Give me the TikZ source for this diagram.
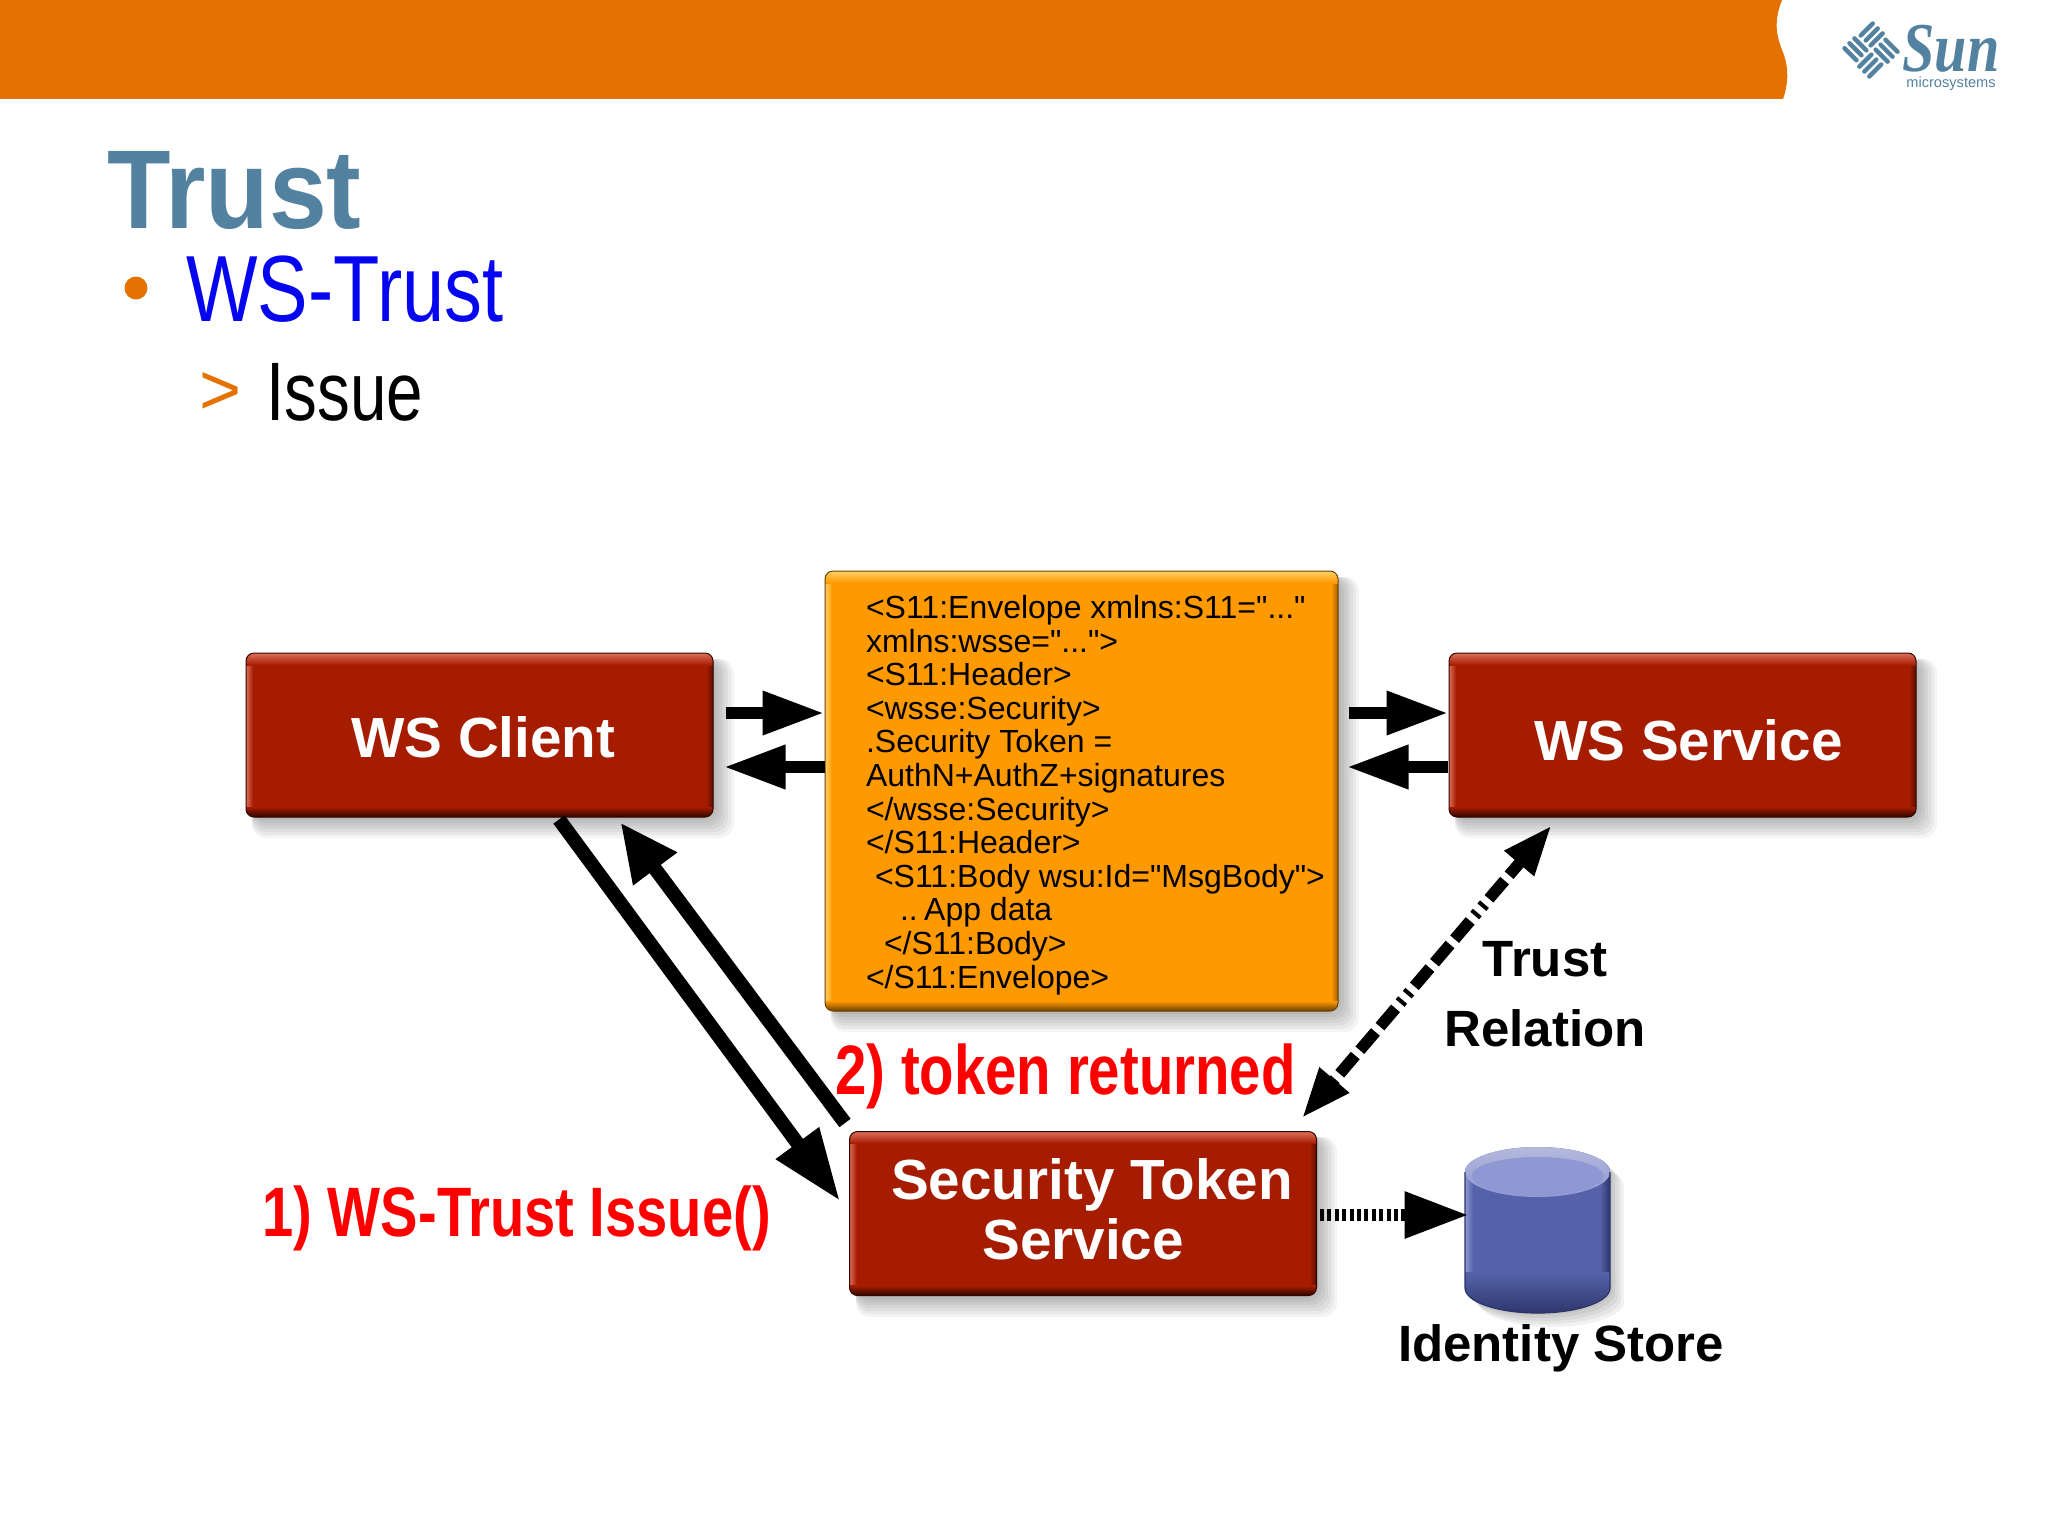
\documentclass[tikz,border=0pt]{standalone}
\usepackage{fontspec}
\usepackage{graphicx}
\setmainfont{Liberation Sans}
\newfontfamily\logoserif{Liberation Serif}
\newfontfamily\codefont[Ligatures=TeXOff]{Liberation Sans}
\usetikzlibrary{arrows.meta}
\definecolor{sunorange}{HTML}{E57200}
\definecolor{sunblue}{HTML}{5382A1}
\definecolor{ttlblue}{HTML}{0505F0}
\definecolor{redbody}{HTML}{A61C00}
\definecolor{redlight}{HTML}{DC6E5C}
\definecolor{reddark}{HTML}{2E0600}
\definecolor{ambody}{HTML}{FF9900}
\definecolor{amlight}{HTML}{FFCF66}
\definecolor{amdark}{HTML}{6A4000}
\definecolor{cylbody}{HTML}{5562AA}
\definecolor{cylcap}{HTML}{8F98D2}
\definecolor{cylrim}{HTML}{B4B9DC}
\definecolor{cyldark}{HTML}{2C3568}
\newcommand\sq[2]{\scalebox{#1}[1]{#2}}
% soft drop shadow of a box: left, top, right, bottom (in picture units)
\newcommand\softshadow[4]{%
  \foreach \e in {21,18,15,12,9,6,3}{%
    \fill[black,opacity=.045,rounded corners=7pt] (#1+6,#2-6) rectangle (#3+\e,#4-\e);
  }}
\tikzset{
  bevel/.style n args={3}{rectangle,rounded corners=4pt,inner sep=0pt,fill=#1,draw=#3,line width=.5pt,
    path picture={
      \begin{scope}[sharp corners]
      \shade[left color=#2,right color=#1] (path picture bounding box.south west) rectangle ([xshift=3.5pt]path picture bounding box.north west);
      \shade[left color=#1,right color=#3!65!#1] ([xshift=-3.5pt]path picture bounding box.south east) rectangle (path picture bounding box.north east);
      \shade[top color=#2,bottom color=#1] (path picture bounding box.north west) rectangle ([yshift=-6pt]path picture bounding box.north east);
      \shade[top color=#1,bottom color=#3] ([yshift=5pt]path picture bounding box.south west) rectangle (path picture bounding box.south east);
      \end{scope}}},
  redbox/.style={bevel={redbody}{redlight}{reddark},minimum width=233.5pt,minimum height=82pt,text=white,align=center},
  boxfont/.style={font=\bfseries\fontsize{28.3}{30}\selectfont},
  lab/.style={font=\bfseries\fontsize{25.5}{26}\selectfont,inner sep=0pt,align=center},
  redlab/.style={font=\bfseries\fontsize{35}{37}\selectfont,text=red,inner sep=0pt,anchor=base west},
  arr/.style={line width=6.4pt,-{Triangle[length=31pt,width=20.5pt]}},
  downarr/.style={line width=7pt,-{Triangle[length=36pt,width=25pt]}},
  uparr/.style={line width=7pt,-{Triangle[length=29pt,width=25.5pt]}},
  trustarr/.style={line width=5.8pt,{Triangle[length=25pt,width=18pt]}-{Triangle[length=25pt,width=18pt]},
    dash pattern=on 2pt off 3.5pt on 12pt off 3.5pt on 12pt off 3.5pt on 12pt off 3.5pt on 2pt off 3.5pt},
  dotarr/.style={line width=6pt,-{Triangle[length=32pt,width=22pt]},dash pattern=on 2pt off 1.7pt},
}
\begin{document}
\begin{tikzpicture}[x=.5pt,y=.5pt]
\useasboundingbox (0,0) rectangle (2048,-1536);
\fill[white] (0,0) rectangle (2048,-1536);
% header band
\fill[sunorange] (0,0) -- (1782,0) .. controls (1772,-25) and (1778,-40) .. (1784,-55) .. controls (1789,-70) and (1788,-85) .. (1783,-99) -- (0,-99) -- cycle;
% logo
\begin{scope}[shift={(1871,-50)},rotate=45]
\foreach \a in {0,90,180,270}{
  \begin{scope}[rotate=\a]
  \foreach \yy in {3.5,10.5,17.5}{
    \draw[sunblue,line width=2.2pt,line cap=round] (3,\yy) -- (20,\yy);
  }
  \end{scope}
}
\end{scope}
\node[anchor=base west,inner sep=0pt,text=sunblue] (sunword) at (1902,-72) {\logoserif\bfseries\itshape\fontsize{35}{36}\selectfont\sq{.83}{Sun}};
\node[anchor=base west,inner sep=0pt,text=sunblue] (micro) at (1906,-88) {\fontsize{7.3}{8}\selectfont microsystems};
% titles
\node[anchor=base west,inner sep=0pt,text=sunblue] (title) at (107,-228) {\bfseries\fontsize{56}{60}\selectfont\sq{.928}{Trust}};
\fill[sunorange] (136,-288) circle (11.5);
\node[anchor=base west,inner sep=0pt,text=ttlblue] (b1) at (186,-321) {\fontsize{47}{50}\selectfont\sq{.806}{WS-Trust}};
\node[anchor=base west,inner sep=0pt,text=sunorange] (gt) at (199,-414) {\fontsize{36}{38}\selectfont >};
\node[anchor=base west,inner sep=0pt,text=black] (b2) at (266,-420) {\fontsize{41.5}{44}\selectfont\sq{.79}{Issue}};
% boxes
\softshadow{246}{-653}{713}{-817}
\softshadow{1449}{-653}{1916}{-817}
\softshadow{825}{-571}{1338}{-1011}
\softshadow{850}{-1131}{1316}{-1296}
\node[redbox,boxfont] (client) at (479.5,-735) {\hspace*{3.8pt}\raisebox{-11.25pt}[0pt][0pt]{WS Client}};
\node[redbox,boxfont] (service) at (1682.5,-735) {\hspace*{6pt}\raisebox{-12.5pt}[0pt][0pt]{WS Service}};
\node[redbox,boxfont] (sts) at (1083,-1213.5) {\hspace*{9pt}Security Token\\Service\hspace*{2pt}\\[-25pt]\mbox{}};
\node[bevel={ambody}{amlight}{amdark},minimum width=256.5pt,minimum height=220pt,text=black,align=left,
      font=\fontsize{16}{16.8}\selectfont,anchor=center] (env) at (1081.5,-791) {\begin{minipage}[c]{250pt}\codefont\raggedright\leftskip=17.25pt\setlength{\baselineskip}{16.8pt}
\vspace*{4pt}
<S11:Envelope xmlns:S11="..."\\
xmlns:wsse="...">\\
<S11:Header>\\
<wsse:Security>\\
.Security Token =\\
AuthN+AuthZ+signatures\\
</wsse:Security>\\
</S11:Header>\\
\hspace*{4.5pt}<S11:Body wsu:Id="MsgBody">\\
\hspace*{17pt}..\hspace{.2em}App data\\
\hspace*{9pt}</S11:Body>\\
</S11:Envelope>\end{minipage}};
% cylinder
\foreach \s in {14,11,8,5,2}{
  \fill[black,opacity=.05] (1465+\s,-1172-\s) -- (1465+\s,-1288-\s) arc[x radius=72.5,y radius=25,start angle=180,end angle=360] -- (1610+\s,-1172-\s) arc[x radius=72.5,y radius=25,start angle=0,end angle=180] -- cycle;
}
\begin{scope}
\clip (1465,-1172) -- (1465,-1288) arc[x radius=72.5,y radius=25,start angle=180,end angle=360] -- (1610,-1172) arc[x radius=72.5,y radius=25,start angle=0,end angle=180] -- cycle;
\fill[cylbody] (1460,-1140) rectangle (1615,-1320);
\shade[left color=cylcap,right color=cylbody] (1465,-1140) rectangle (1473,-1320);
\shade[left color=cylbody,right color=cyldark] (1600,-1140) rectangle (1610,-1320);
\shade[top color=cylbody,bottom color=cyldark] (1460,-1272) rectangle (1615,-1315);
\end{scope}
\shade[top color=cylrim,bottom color=cylcap] (1537.5,-1172) ellipse [x radius=72.5,y radius=25];
\fill[cylcap] (1537.5,-1176) ellipse [x radius=66,y radius=19];
\draw[cyldark,line width=.6pt] (1465,-1172) -- (1465,-1288) arc[x radius=72.5,y radius=25,start angle=180,end angle=360] -- (1610,-1172);
\node[inner sep=0pt,minimum width=72.5pt,minimum height=83pt] (store) at (1537.5,-1230) {};
% labels
\node[lab] (tr) at (1545,-959) {Trust};
\node[lab] (rel) at (1545,-1028) {Relation};
\node[lab] (ids) at (1561,-1348) {Identity Store};
\node[redlab] (ret) at (835,-1094) {\sq{.805}{2) token returned}};
\node[redlab] (iss) at (262,-1236) {\sq{.802}{1) WS-Trust Issue()}};
% connectors
\draw[arr] ([shift={(12,22)}]client.east) -- ([shift={(0,78)}]env.west);
\draw[arr] ([shift={(0,24)}]env.west) -- ([shift={(10,-32)}]client.east);
\draw[arr] ([shift={(10,78)}]env.east) -- ([shift={(0,22)}]service.west);
\draw[arr] ([shift={(-1,-32)}]service.west) -- ([shift={(8,24)}]env.east);
\draw[downarr] ([shift={(79.5,-2)}]client.south) -- ([shift={(-9,12.5)}]sts.west);
\draw[uparr] ([shift={(-4,8)}]sts.north west) -- ([shift={(141,-5)}]client.south);
\draw[trustarr] ([shift={(-15,13)}]sts.north east) -- ([shift={(103,-8)}]service.south west);
\draw[dotarr] ([shift={(3,-1.5)}]sts.east) -- ([shift={(4,15)}]store.west);
\end{tikzpicture}
\end{document}
